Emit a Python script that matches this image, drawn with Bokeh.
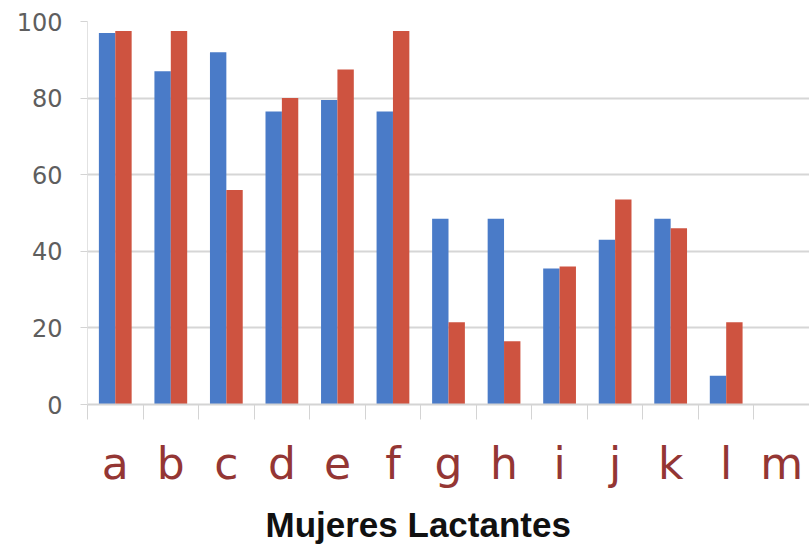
from bokeh.plotting import figure
from bokeh.models import Range1d, LinearAxis, FixedTicker, ColumnDataSource, Title
from bokeh.transform import dodge
from bokeh.embed import file_html
from bokeh.resources import INLINE

# Women surveyed (a..m) and the two measured percentages
categories = ["a", "b", "c", "d", "e", "f", "g", "h", "i", "j", "k", "l", "m"]
serie_azul = [97, 87, 92, 76.5, 79.5, 76.5, 48.5, 48.5, 35.5, 43, 48.5, 7.5, 0]
serie_roja = [97.5, 97.5, 56, 80, 87.5, 97.5, 21.5, 16.5, 36, 53.5, 46, 21.5, 0]
y_ticks = [0, 20, 40, 60, 80, 100]

n = len(categories)
centers = [i + 0.5 for i in range(n)]
source = ColumnDataSource(dict(x=centers, azul=serie_azul, roja=serie_roja))

p = figure(width=809, height=554, x_range=Range1d(0, n), y_range=Range1d(0, 100),
           output_backend="svg", toolbar_location=None, x_axis_location=None,
           min_border_left=87, min_border_right=0, min_border_top=21,
           min_border_bottom=150)
p.outline_line_color = None
p.background_fill_color = "white"
p.border_fill_color = "white"

bar_w = 0.295
p.vbar(x=dodge("x", -bar_w / 2), top="azul", width=bar_w,
       source=source, fill_color="#4A7BC8", line_color=None)
p.vbar(x=dodge("x", bar_w / 2), top="roja", width=bar_w,
       source=source, fill_color="#CE5340", line_color=None)

# y axis
yax = p.yaxis[0]
yax.ticker = FixedTicker(ticks=y_ticks)
yax.minor_tick_line_color = None
yax.major_tick_out = 7
yax.major_tick_in = 0
yax.major_tick_line_color = "#d4d4d4"
yax.axis_line_color = "#e2e2e2"
yax.major_label_text_font = "DejaVu Sans"
yax.major_label_text_font_size = "24px"
yax.major_label_text_color = "#5e5e5e"
yax.major_label_standoff = 18

p.ygrid.ticker = FixedTicker(ticks=y_ticks)
p.ygrid.grid_line_color = "#d6d6d6"
p.ygrid.grid_line_width = 2
p.xgrid.grid_line_color = None

# tick marks between categories
sep_axis = LinearAxis(ticker=FixedTicker(ticks=list(range(n + 1))),
                      major_label_text_font_size="0px", major_label_standoff=0,
                      major_tick_out=15, major_tick_in=0,
                      major_tick_line_color="#d4d4d4", minor_tick_line_color=None,
                      axis_line_color="#d4d4d4", axis_line_width=2)
p.add_layout(sep_axis, "below")

# category letters
cat_axis = LinearAxis(ticker=FixedTicker(ticks=centers),
                      major_label_overrides={c: lab for c, lab in zip(centers, categories)},
                      major_tick_line_color=None, minor_tick_line_color=None,
                      axis_line_color=None,
                      major_label_text_font="DejaVu Sans",
                      major_label_text_font_size="44px",
                      major_label_text_color="#943634",
                      major_label_standoff=12)
p.add_layout(cat_axis, "below")

# axis title
p.add_layout(Title(text="Mujeres Lactantes", align="left", offset=178,
                   standoff=22, text_font="Liberation Sans",
                   text_font_style="bold", text_font_size="35px",
                   text_color="#111111"), "below")

open("out.html", "w").write(file_html(p, INLINE))
